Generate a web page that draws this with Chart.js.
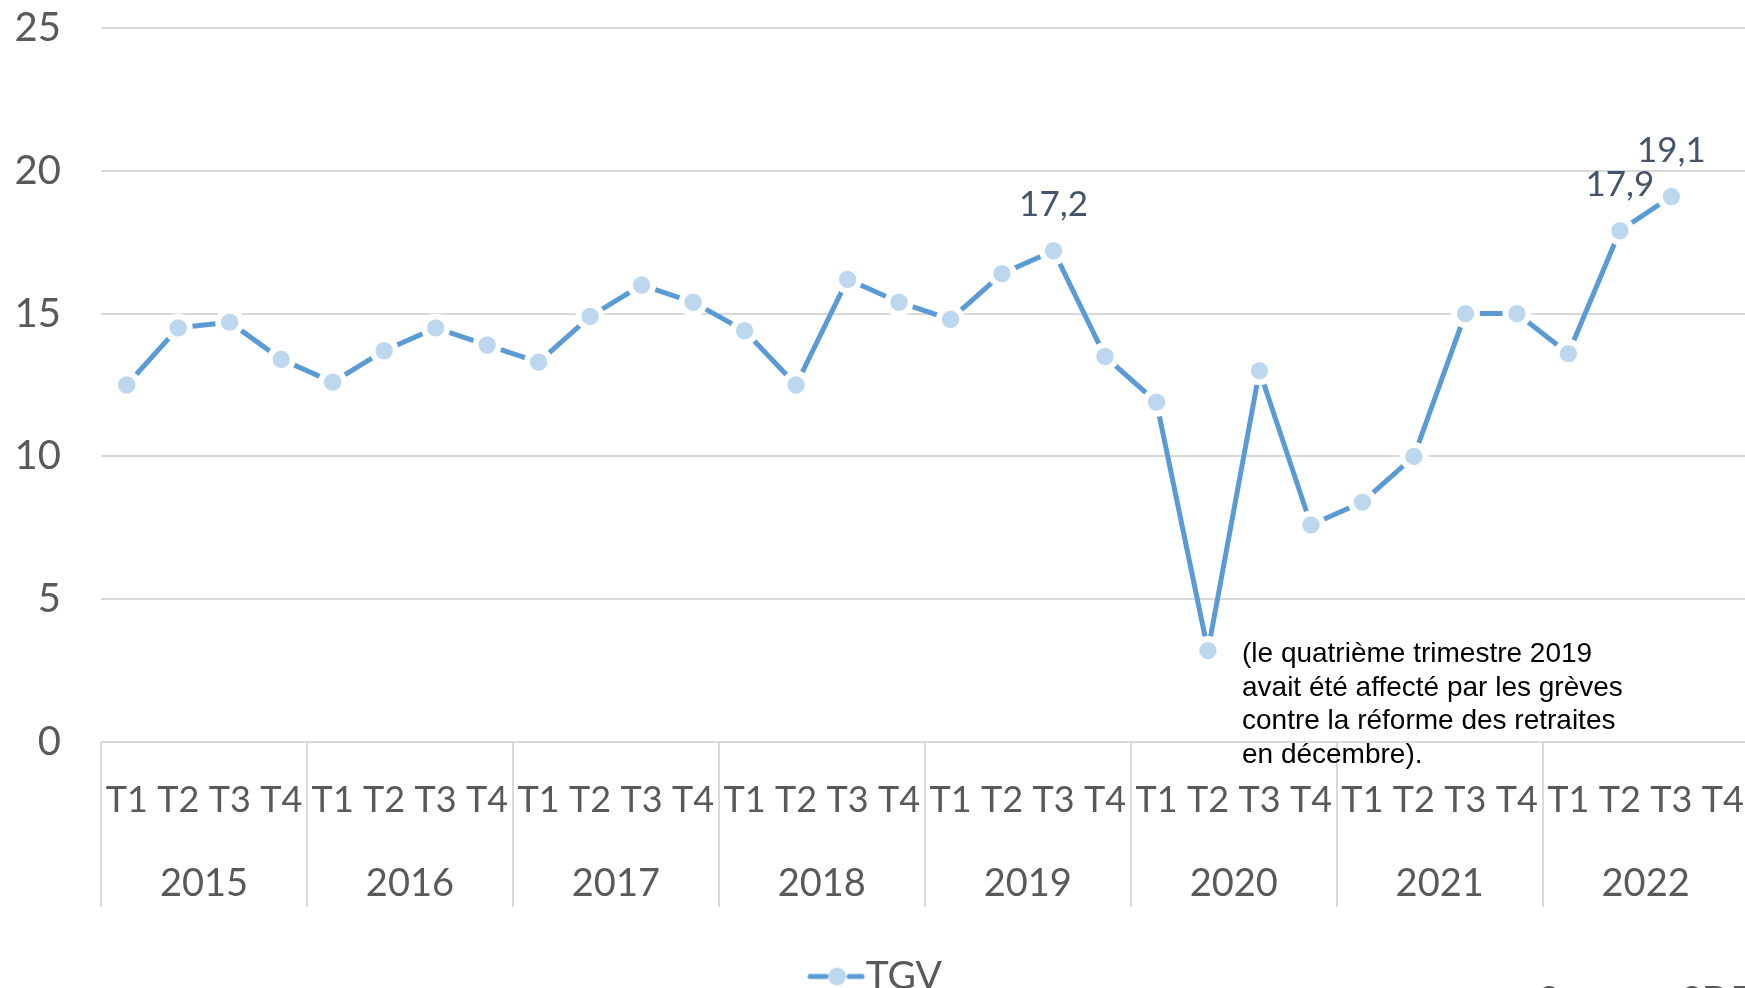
<!DOCTYPE html>
<html>
<head>
<meta charset="utf-8">
<script src="https://cdn.jsdelivr.net/npm/chart.js@4.4.0/dist/chart.umd.min.js"></script>
<style>
  html, body { margin: 0; padding: 0; background: #fff; overflow: hidden; }
  #wrap { position: relative; width: 1745px; height: 988px; overflow: hidden; }
  #source { position: absolute; left: 1538px; top: 976px; font: 38px Lato; color: #595959; white-space: nowrap; }
</style>
</head>
<body>
<div id="wrap">
  <canvas id="tgvChart" width="1766" height="1010"></canvas>
  <div id="source">Source : SDES</div>
</div>
<script>
// data (TGV, by quarter)
const years = ['2015', '2016', '2017', '2018', '2019', '2020', '2021', '2022'];
const quarterNames = ['T1', 'T2', 'T3', 'T4'];
const quarters = years.flatMap(() => quarterNames);
const tgv = [
  12.5, 14.5, 14.7, 13.4,
  12.6, 13.7, 14.5, 13.9,
  13.3, 14.9, 16.0, 15.4,
  14.4, 12.5, 16.2, 15.4,
  14.8, 16.4, 17.2, 13.5,
  11.9, 3.2, 13.0, 7.6,
  8.4, 10.0, 15.0, 15.0,
  13.6, 17.9, 19.1, null
];
const labelledPoints = [18, 29, 30];
const noteAt = 21; // 2020 T2
const noteLines = [
  '(le quatrième trimestre 2019',
  'avait été affecté par les grèves',
  'contre la réforme des retraites',
  'en décembre).'
];

const lineBlue = '#5B9BD5';
const markerBlue = '#BDD7EE';
const gridGrey = '#D9D9D9';
const textGrey = '#595959';

// legend symbol: dash - marker - dash
const legendIcon = document.createElement('canvas');
legendIcon.width = 58;
legendIcon.height = 22;
const g = legendIcon.getContext('2d');
g.strokeStyle = lineBlue;
g.lineWidth = 5;
g.lineCap = 'round';
g.beginPath();
g.moveTo(3, 11); g.lineTo(19, 11);
g.moveTo(42, 11); g.lineTo(55, 11);
g.stroke();
g.fillStyle = markerBlue;
g.beginPath();
g.arc(30, 11, 9, 0, Math.PI * 2);
g.fill();

// vertical separators between years, under the axis
const yearLines = {
  id: 'yearLines',
  afterDraw(chart) {
    const x = chart.scales.x, x2 = chart.scales.x2, ctx = chart.ctx;
    ctx.save();
    ctx.strokeStyle = gridGrey;
    ctx.lineWidth = 2;
    for (let i = 0; i <= years.length; i++) {
      const px = Math.round(x.getPixelForValue(i * 4 - 0.5));
      ctx.beginPath();
      ctx.moveTo(px, chart.chartArea.bottom);
      ctx.lineTo(px, x2.top + 86);
      ctx.stroke();
    }
    ctx.restore();
  }
};

// value labels + the note
const annotations = {
  id: 'annotations',
  afterDraw(chart) {
    const ctx = chart.ctx;
    const meta = chart.getDatasetMeta(0);
    ctx.save();
    ctx.font = '35px Lato';
    ctx.fillStyle = '#44546A';
    ctx.textAlign = 'center';
    ctx.textBaseline = 'middle';
    labelledPoints.forEach(i => {
      const pt = meta.data[i];
      ctx.fillText(tgv[i].toFixed(1).replace('.', ','), pt.x, pt.y - 46);
    });
    const p = meta.data[noteAt];
    ctx.font = '28px "Liberation Sans"';
    ctx.fillStyle = '#000';
    ctx.textAlign = 'left';
    noteLines.forEach((line, k) => {
      ctx.fillText(line, p.x + 34, p.y + 4 + k * 33.5);
    });
    ctx.restore();
  }
};

document.addEventListener('DOMContentLoaded', function() {
  const ctx = document.getElementById('tgvChart');
  new Chart(ctx, {
    type: 'line',
    data: {
      labels: quarters,
      datasets: [{
        label: 'TGV',
        data: tgv,
        borderColor: lineBlue,
        borderWidth: 5,
        pointStyle: 'circle',
        pointRadius: 11.6,
        pointBorderWidth: 5.8,
        pointBackgroundColor: markerBlue,
        pointBorderColor: '#ffffff',
        pointHoverRadius: 11.6,
        tension: 0,
        spanGaps: false
      }]
    },
    options: {
      responsive: false,
      animation: false,
      devicePixelRatio: 1,
      layout: { padding: { top: 28, right: 10, left: 12, bottom: 4 } },
      plugins: {
        tooltip: { enabled: false },
        legend: {
          position: 'bottom',
          labels: {
            usePointStyle: true,
            pointStyleWidth: 20,
            padding: 10,
            color: textGrey,
            font: { family: 'Lato', size: 39 },
            generateLabels: () => [{
              text: 'TGV',
              pointStyle: legendIcon,
              fillStyle: markerBlue,
              strokeStyle: lineBlue,
              lineWidth: 0,
              fontColor: textGrey,
              datasetIndex: 0
            }]
          }
        }
      },
      scales: {
        x: {
          type: 'category',
          offset: true,
          grid: { display: false },
          border: { display: false },
          ticks: {
            autoSkip: false,
            maxRotation: 0,
            padding: 29,
            color: textGrey,
            font: { family: 'Lato', size: 36 }
          },
          afterFit: s => { s.height = 79; s.paddingLeft = 0; s.paddingRight = 0; }
        },
        x2: {
          type: 'category',
          labels: years,
          offset: true,
          position: 'bottom',
          grid: { display: false },
          border: { display: false },
          ticks: {
            autoSkip: false,
            maxRotation: 0,
            padding: 32,
            color: textGrey,
            font: { family: 'Lato', size: 38 }
          },
          afterFit: s => { s.height = 126; s.paddingLeft = 0; s.paddingRight = 0; }
        },
        y: {
          min: 0,
          max: 25,
          ticks: {
            stepSize: 5,
            padding: 40,
            color: textGrey,
            font: { family: 'Lato', size: 40 }
          },
          grid: { color: gridGrey, lineWidth: 2, drawTicks: false },
          border: { display: false },
          afterFit: s => { s.width = 89; s.paddingTop = 0; s.paddingBottom = 0; }
        }
      }
    },
    plugins: [yearLines, annotations]
  });
});
</script>
</body>
</html>
